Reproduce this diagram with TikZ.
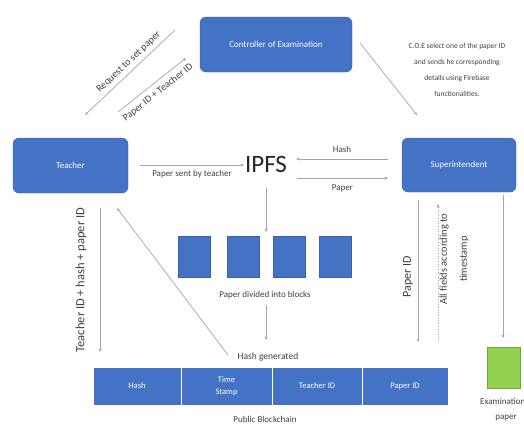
\documentclass[tikz,border=0pt]{standalone}
\usepackage{fontspec}
\setmainfont{Carlito}
\usetikzlibrary{arrows.meta}
\definecolor{boxblue}{HTML}{4472C4}
\definecolor{lineg}{HTML}{A6A6A6}
\definecolor{exgreen}{HTML}{92D050}
\definecolor{txt}{HTML}{404040}
\begin{document}
\begin{tikzpicture}[x=1pt,y=-1pt,
  bluebox/.style={draw=boxblue!85!black, fill=boxblue, rounded corners=6pt, text=white,
    font=\fontsize{9}{10}\selectfont, inner sep=0pt},
  block/.style={fill=boxblue, draw=boxblue!85!black, minimum width=32pt, minimum height=41pt, inner sep=0pt},
  cell/.style={fill=boxblue, draw=white, line width=0.6pt, minimum height=38pt, inner sep=0pt, text=white,
    font=\fontsize{8.5}{12}\selectfont, align=center},
  conn/.style={draw=lineg, line width=0.7pt, -{Stealth[length=3.5pt,width=3pt]}},
  lbl/.style={font=\fontsize{9}{11}\selectfont, text=txt, inner sep=1pt},
  slbl/.style={font=\fontsize{10}{11}\selectfont, text=txt, inner sep=1pt, sloped},
  vlbl/.style={font=\fontsize{12}{14}\selectfont, text=txt, rotate=90, inner sep=1pt}
]
\useasboundingbox (0,0) rectangle (524,426);
\fill[white] (0,0) rectangle (524,426);

% main boxes
\node[bluebox, minimum width=152pt, minimum height=55pt] (coe) at (276,44.5) {Controller of Examination};
\node[bluebox, minimum width=115pt, minimum height=55pt] (teacher) at (70.5,165.5) {Teacher};
\node[bluebox, minimum width=114pt, minimum height=54pt] (sup) at (459,165) {Superintendent};
\node[font=\fontsize{25}{25}\selectfont, text=black!85, inner sep=1pt] (ipfs) at (266,164) {IPFS};

% blocks
\node[block] (b1) at (194,256.5) {};
\node[block] (b2) at (243,256.5) {};
\node[block] (b3) at (289,256.5) {};
\node[block] (b4) at (335,256.5) {};
\node[lbl] (div) at (265,295) {Paper divided into blocks};
\node[lbl, font=\fontsize{9.5}{11}\selectfont] (hg) at (268,357) {Hash generated};

% blockchain
\node[cell, minimum width=88pt] (c1) at (137,386) {Hash};
\node[cell, minimum width=91pt] (c2) at (226.5,386) {Time\\Stamp};
\node[cell, minimum width=90pt] (c3) at (317,386) {Teacher ID};
\node[cell, minimum width=86pt] (c4) at (405,386) {Paper ID};
\node[lbl] (pub) at (265,419) {Public Blockchain};

% examination paper
\node[fill=exgreen, draw=exgreen!80!black, line width=0.4pt, minimum width=33pt, minimum height=41pt, inner sep=0pt] (exam) at (503.5,367.5) {};
\node[lbl, anchor=west] (examl1) at (479,401) {Examination};
\node[lbl] (examl2) at (506,418) {paper};

% coordinates for connector ends
\coordinate (r1) at (175,30);  \coordinate (r2) at (85,115);
\coordinate (q1) at (118,112); \coordinate (q2) at (186,58);
\coordinate (s1) at (360,43);  \coordinate (s2) at (417,115);
\coordinate (t1) at (140,165); \coordinate (t2) at (244,165);
\coordinate (h1) at (388,159); \coordinate (h2) at (296,159);
\coordinate (p1) at (297,178); \coordinate (p2) at (388,178);
\coordinate (d1) at (266,188); \coordinate (d2) at (266,232);
\coordinate (g1) at (266,305); \coordinate (g2) at (266,340);
\coordinate (tv1) at (100,208); \coordinate (tv2) at (100,352);
\coordinate (dg1) at (228,355); \coordinate (dg2) at (117,208);
\coordinate (pv1) at (418,200); \coordinate (pv2) at (418,342);
\coordinate (av1) at (438,340); \coordinate (av2) at (438,204);
\coordinate (ev1) at (503,195); \coordinate (ev2) at (503,338);

% connectors
\draw[conn] (r1) -- node[slbl, above=3pt, pos=0.45] {Request to set paper} (r2);
\draw[conn] (q1) -- node[slbl, below=4pt, pos=0.5] {Paper ID + Teacher ID} (q2);
\draw[conn] (s1) -- (s2);
\node[lbl, align=center, font=\fontsize{7.5}{16}\selectfont] (coetxt) at (457,70)
  {C.O.E select one of the paper ID\\and sends he corresponding\\details using Firebase\\functionalities.};

\draw[conn] (t1) -- node[lbl, below=4pt] {Paper sent by teacher} (t2);
\draw[conn] (h1) -- node[lbl, above=5pt] {Hash} (h2);
\draw[conn] (p1) -- node[lbl, below=5pt] {Paper} (p2);
\draw[conn] (d1) -- (d2);
\draw[conn] (g1) -- (g2);

\draw[conn] (tv1) -- (tv2);
\node[vlbl, font=\fontsize{12.5}{14}\selectfont] (tvl) at (81,280) {Teacher ID + hash + paper ID};
\draw[conn] (dg1) -- (dg2);

\draw[conn] (pv1) -- (pv2);
\node[vlbl] (pvl) at (408,277) {Paper ID};
\draw[conn, dotted] (av1) -- (av2);
\node[vlbl, align=center, font=\fontsize{10.5}{20}\selectfont] (avl) at (454,259) {All fields according to\\timestamp};
\draw[conn] (ev1) -- (ev2);
\end{tikzpicture}
\end{document}
